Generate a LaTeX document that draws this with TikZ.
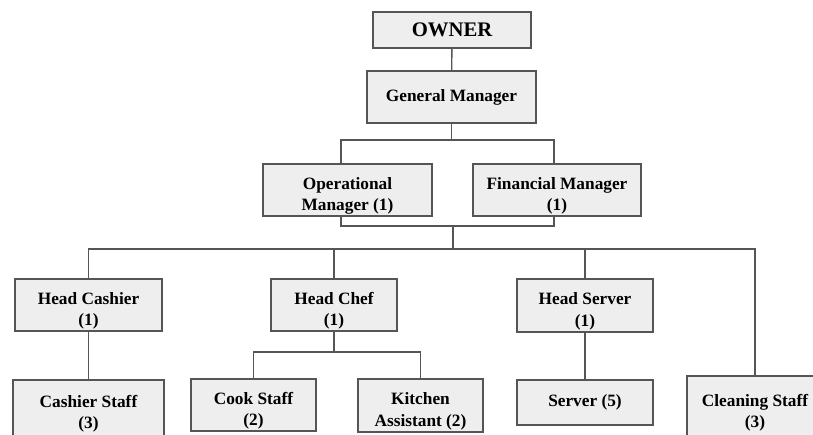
\documentclass[tikz,border=0pt]{standalone}
\usepackage{fontspec}
\setmainfont{Liberation Serif}
\definecolor{boxfill}{HTML}{EEEEEE}
\definecolor{boxline}{HTML}{555555}
\newcommand{\lowr}{\rule{0pt}{24pt}}
\tikzset{
  orgbox/.style={draw=boxline, line width=1.4pt, fill=boxfill, align=center,
    inner sep=0pt, font=\fontsize{17.3}{21.5}\selectfont\bfseries},
  link/.style={draw=boxline, line width=1.4pt}
}
\begin{document}
\begin{tikzpicture}[x=1pt,y=-1pt]
\useasboundingbox (0,0) rectangle (813,434);
\clip (0,0) rectangle (813,434);
\node[orgbox, minimum width=158pt, minimum height=36pt, font=\fontsize{20.7}{24}\selectfont\bfseries] (owner) at (452,30) {OWNER};
\node[orgbox, minimum width=169pt, minimum height=52pt] (gm) at (451.5,97) {General Manager};
\node[orgbox, minimum width=169pt, minimum height=52pt] (ops) at (347.5,190) {\lowr Operational\\Manager (1)};
\node[orgbox, minimum width=168pt, minimum height=52pt] (fin) at (557,190) {\lowr Financial Manager\\(1)};
\node[orgbox, minimum width=147pt, minimum height=52pt] (hcash) at (88.5,305) {\lowr Head Cashier\\(1)};
\node[orgbox, minimum width=126pt, minimum height=52pt] (hchef) at (334,305) {\lowr Head Chef\\(1)};
\node[orgbox, minimum width=136pt, minimum height=53pt] (hserv) at (585,305.5) {\lowr Head Server\\(1)};
\node[orgbox, minimum width=151pt, minimum height=56pt] (cstaff) at (88.5,408) {\lowr Cashier Staff\\(3)};
\node[orgbox, minimum width=125pt, minimum height=52pt] (cook) at (253.5,405) {\lowr Cook Staff\\(2)};
\node[orgbox, minimum width=125pt, minimum height=53pt] (kitchen) at (420.5,405.5) {\lowr Kitchen\\Assistant (2)};
\node[orgbox, minimum width=136pt, minimum height=45pt] (server) at (585,402.5) {Server (5)};
\node[orgbox, minimum width=136pt, minimum height=62pt] (clean) at (755,407) {\lowr Cleaning Staff\\(3)};
% branch points
\coordinate (split) at (451.5,140);
\coordinate (join) at (453,226);
\coordinate (bus) at (453,249);
\coordinate (chefbar) at (334,352);
\draw[link] (owner) -- (gm);
\draw[link] (gm.south) -- (split);
\draw[link] ([xshift=-6.5pt]ops.north) |- (split) -| ([xshift=-3pt]fin.north);
\draw[link] ([xshift=-6.5pt]ops.south) |- (join) -| ([xshift=-3pt]fin.south);
\draw[link] (join) -- (bus);
\draw[link] (hcash.north) |- (bus) -| (clean.north);
\draw[link] (hchef.north) -- (hchef.north |- bus);
\draw[link] (hserv.north) -- (hserv.north |- bus);
\draw[link] (hcash) -- (cstaff);
\draw[link] (hchef.south) -- (chefbar);
\draw[link] (cook.north) |- (chefbar) -| (kitchen.north);
\draw[link] (hserv) -- (server);
\end{tikzpicture}
\end{document}
